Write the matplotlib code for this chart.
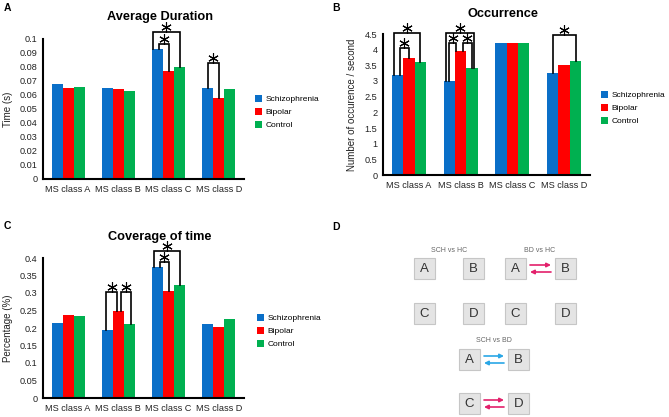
import numpy as np
import matplotlib.pyplot as plt
from matplotlib.patches import Rectangle, Patch

plt.rcParams['font.family'] = ['Liberation Sans', 'DejaVu Sans']

# data
classes = ['MS class A', 'MS class B', 'MS class C', 'MS class D']
groups = ['Schizophrenia', 'Bipolar', 'Control']
colors = ['#0a6fc8', '#ff0000', '#00b050']

dur_sch = [0.068, 0.065, 0.093, 0.065]
dur_bip = [0.065, 0.064, 0.077, 0.058]
dur_ctl = [0.066, 0.063, 0.080, 0.064]

occ_sch = [3.18, 3.00, 4.20, 3.27]
occ_bip = [3.75, 3.97, 4.20, 3.50]
occ_ctl = [3.62, 3.42, 4.21, 3.65]

cov_sch = [0.215, 0.193, 0.375, 0.212]
cov_bip = [0.238, 0.248, 0.305, 0.202]
cov_ctl = [0.233, 0.212, 0.322, 0.227]

# significance brackets: (class index, series i, series j, bracket top, leg shift i, leg shift j)
sig_dur = [(2, 0, 2, 0.1048, -0.09, 0.0), (2, 0, 1, 0.0964, 0.03, 0.0),
           (3, 0, 1, 0.0826, 0.0, 0.0)]
sig_occ = [(0, 0, 2, 4.52, -0.07, 0.0), (0, 0, 1, 4.04, 0.04, 0.0),
           (1, 0, 2, 4.52, -0.07, 0.04), (1, 0, 1, 4.22, 0.0, -0.08),
           (1, 1, 2, 4.22, 0.04, 0.0), (3, 0, 2, 4.47, 0.0, 0.0)]
sig_cov = [(1, 0, 1, 0.302, -0.02, -0.02), (1, 1, 2, 0.302, 0.05, 0.03),
           (2, 0, 2, 0.421, -0.08, 0.0), (2, 0, 1, 0.389, 0.05, 0.0)]

W, H = 669, 417
fig = plt.figure(figsize=(W / 100, H / 100), dpi=100)

bw = 0.22


def px(x, y, w, h):
    return [x / W, 1 - (y + h) / H, w / W, h / H]


def bar_panel(box_px, series, ymax, ystep, ylabel, sig, title, title_xy, leg_xy, label_px):
    ax = fig.add_axes(px(*box_px))
    x = np.arange(len(classes))
    for k, vals in enumerate(series):
        ax.bar(x + (k - 1) * bw, vals, bw, color=colors[k], label=groups[k])
    ax.set_xlim(-0.5, 3.5)
    ax.set_ylim(0, ymax)
    ax.set_yticks(np.arange(0, ymax + ystep / 2, ystep))
    ax.set_yticklabels(['%g' % round(t, 3) for t in ax.get_yticks()])
    ax.set_xticks(x)
    ax.set_xticklabels(classes)
    ax.tick_params(length=0, labelsize=6.6, colors='#222222', pad=4)
    for s in ['top', 'right']:
        ax.spines[s].set_visible(False)
    for s in ['left', 'bottom']:
        ax.spines[s].set_linewidth(1.5)
    ax.set_ylabel(ylabel, fontsize=7, color='#222222')
    ax.yaxis.set_label_coords((label_px - box_px[0]) / box_px[2], 0.5)

    for g, i, j, top, di, dj in sig:
        xi = g + (i - 1) * bw + di
        xj = g + (j - 1) * bw + dj
        yi = series[i][g]
        yj = series[j][g]
        ax.plot([xi, xi, xj, xj], [yi, top, top, yj], color='black', lw=1.2,
                clip_on=False, zorder=3, solid_joinstyle='miter')
        ax.plot((xi + xj) / 2, top + 0.036 * ymax, marker=(6, 2, 0), ms=7.5,
                mew=0.8, color='black', clip_on=False, zorder=3)

    fig.text(title_xy[0] / W, 1 - title_xy[1] / H, title, fontsize=9.2,
             fontweight='bold', ha='center', va='center')
    handles = [Patch(facecolor=c) for c in colors]
    ax.legend(handles, groups, loc='center left', frameon=False, fontsize=6,
              bbox_to_anchor=(leg_xy[0] / W, 1 - leg_xy[1] / H),
              bbox_transform=fig.transFigure, borderpad=0, borderaxespad=0,
              handlelength=0.8, handleheight=0.9, handletextpad=0.5,
              labelspacing=0.55)
    return ax


bar_panel((43, 39, 201, 140), [dur_sch, dur_bip, dur_ctl], 0.1, 0.01, 'Time (s)',
          sig_dur, 'Average Duration', (160, 17), (255, 112), 13)
bar_panel((383, 34, 207, 141), [occ_sch, occ_bip, occ_ctl], 4.5, 0.5,
          'Number of occurence / second', sig_occ, 'Occurrence', (503, 14),
          (601, 108), 357)
bar_panel((43, 258, 201, 140), [cov_sch, cov_bip, cov_ctl], 0.4, 0.05, 'Percentage (%)',
          sig_cov, 'Coverage of time', (160, 237), (257, 331), 13)

# panel D: transition diagram
axd = fig.add_axes(px(330, 205, 339, 212))
axd.set_xlim(330, 669)
axd.set_ylim(417, 205)
axd.axis('off')

box = 21
diagrams = [
    ('SCH vs HC', (449, 250), {'A': (414, 258), 'B': (463, 258), 'C': (414, 303), 'D': (463, 303)}, []),
    ('BD vs HC', (540, 250), {'A': (505, 258), 'B': (555, 258), 'C': (505, 303), 'D': (555, 303)},
     [('A', 'B', '#e3206b')]),
    ('SCH vs BD', (494, 340), {'A': (459, 349), 'B': (508, 349), 'C': (459, 393), 'D': (508, 393)},
     [('A', 'B', '#2aa7e6'), ('C', 'D', '#e3206b')]),
]
for name, (tx, ty), boxes, arrows in diagrams:
    axd.text(tx, ty, name, fontsize=5, color='#666666', ha='center', va='center')
    for letter, (bx, by) in boxes.items():
        axd.add_patch(Rectangle((bx, by), box, box, facecolor='#e4e4e4',
                                edgecolor='#c6c6c6', lw=0.8))
        axd.text(bx + box / 2, by + box / 2 + 0.5, letter, fontsize=9.5,
                 color='#333333', ha='center', va='center')
    for a, b, col in arrows:
        x0 = boxes[a][0] + box + 4
        x1 = boxes[b][0] - 4
        yc = boxes[a][1] + box / 2
        axd.annotate('', xy=(x1, yc - 3.5), xytext=(x0, yc - 3.5),
                     arrowprops=dict(arrowstyle='-|>', color=col, lw=1.2,
                                     shrinkA=0, shrinkB=0, mutation_scale=6))
        axd.annotate('', xy=(x0, yc + 3.5), xytext=(x1, yc + 3.5),
                     arrowprops=dict(arrowstyle='-|>', color=col, lw=1.2,
                                     shrinkA=0, shrinkB=0, mutation_scale=6))

for lab, (lx, ly) in zip('ABCD', [(7, 8), (336, 8), (7, 226), (336, 227)]):
    fig.text(lx / W, 1 - ly / H, lab, fontsize=7.5, fontweight='bold',
             ha='center', va='center')

fig.savefig('out.png', dpi=100)
